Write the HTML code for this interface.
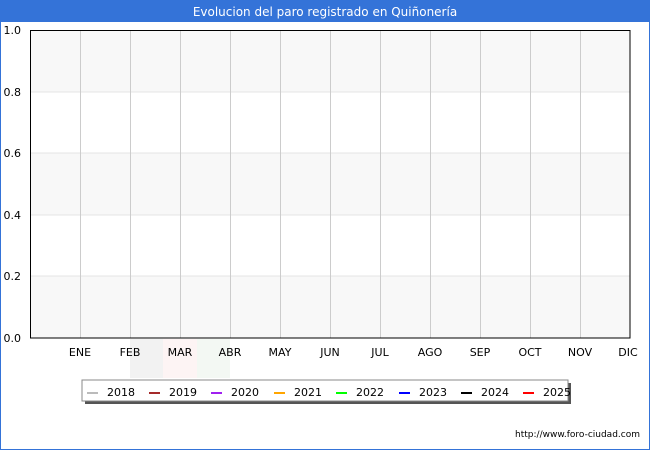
<!DOCTYPE html><html><head><style>
body{margin:0;width:650px;height:450px;overflow:hidden;background:#fff;font-family:"DejaVu Sans","Liberation Sans",sans-serif}
</style></head><body>
<svg width="650" height="450" xmlns="http://www.w3.org/2000/svg" font-family="DejaVu Sans, Liberation Sans, sans-serif">
<rect x="0.5" y="0.5" width="649" height="449" fill="#fff" stroke="#3473d8"/>
<rect x="0" y="0" width="650" height="22" fill="#3473d8"/>
<text x="325" y="16" fill="#fff" font-size="12" text-anchor="middle">Evolucion del paro registrado en Quiñonería</text>
<rect x="130" y="339" width="33" height="39" fill="#f2f2f2"/>
<rect x="163" y="339" width="34" height="39" fill="#fdf4f4"/>
<rect x="197" y="339" width="33" height="39" fill="#f3f8f3"/>
<rect x="30" y="30" width="600" height="62" fill="#f8f8f8"/>
<rect x="30" y="153" width="600" height="62" fill="#f8f8f8"/>
<rect x="30" y="276" width="600" height="62" fill="#f8f8f8"/>
<g stroke="#e4e4e4"><line x1="30" y1="92" x2="630" y2="92"/><line x1="30" y1="153" x2="630" y2="153"/><line x1="30" y1="215" x2="630" y2="215"/><line x1="30" y1="276" x2="630" y2="276"/></g>
<g stroke="#cccccc">
<line x1="80.5" y1="30" x2="80.5" y2="338"/><line x1="130.5" y1="30" x2="130.5" y2="338"/><line x1="180.5" y1="30" x2="180.5" y2="338"/><line x1="230.5" y1="30" x2="230.5" y2="338"/><line x1="280.5" y1="30" x2="280.5" y2="338"/><line x1="330.5" y1="30" x2="330.5" y2="338"/><line x1="380.5" y1="30" x2="380.5" y2="338"/><line x1="430.5" y1="30" x2="430.5" y2="338"/><line x1="480.5" y1="30" x2="480.5" y2="338"/><line x1="530.5" y1="30" x2="530.5" y2="338"/><line x1="580.5" y1="30" x2="580.5" y2="338"/>
</g>
<rect x="30.5" y="30.5" width="599.5" height="307.5" fill="none" stroke="#000"/>
<g font-size="11" fill="#000" text-anchor="end">
<text x="21" y="34">1.0</text><text x="21" y="96">0.8</text><text x="21" y="157">0.6</text><text x="21" y="219">0.4</text><text x="21" y="280">0.2</text><text x="21" y="342">0.0</text>
</g>
<g font-size="11" fill="#000" text-anchor="middle">
<text x="80" y="356">ENE</text><text x="130" y="356">FEB</text><text x="180" y="356">MAR</text><text x="230" y="356">ABR</text><text x="280" y="356">MAY</text><text x="330" y="356">JUN</text><text x="380" y="356">JUL</text><text x="430" y="356">AGO</text><text x="480" y="356">SEP</text><text x="530" y="356">OCT</text><text x="580" y="356">NOV</text><text x="628" y="356">DIC</text>
</g>
<rect x="85" y="383" width="486" height="21" fill="#555"/>
<rect x="82" y="380" width="486" height="21" fill="#fff" stroke="#888"/>
<g stroke-width="2">
<line x1="87" y1="393" x2="98" y2="393" stroke="#bbbbbb"/>
<line x1="149" y1="393" x2="160" y2="393" stroke="#a52a2a"/>
<line x1="211" y1="393" x2="222" y2="393" stroke="#a020f0"/>
<line x1="274" y1="393" x2="285" y2="393" stroke="#ffa500"/>
<line x1="336" y1="393" x2="347" y2="393" stroke="#00ff00"/>
<line x1="399" y1="393" x2="410" y2="393" stroke="#0000ff"/>
<line x1="461" y1="393" x2="472" y2="393" stroke="#000"/>
<line x1="523" y1="393" x2="534" y2="393" stroke="#ff0000"/>
</g>
<g font-size="11" fill="#000">
<text x="107" y="396">2018</text><text x="169" y="396">2019</text><text x="231" y="396">2020</text><text x="294" y="396">2021</text><text x="356" y="396">2022</text><text x="419" y="396">2023</text><text x="481" y="396">2024</text><text x="543" y="396">2025</text>
</g>
<text x="640" y="437" font-size="9" text-anchor="end" fill="#000">http://www.foro-ciudad.com</text>
</svg>
</body></html>
